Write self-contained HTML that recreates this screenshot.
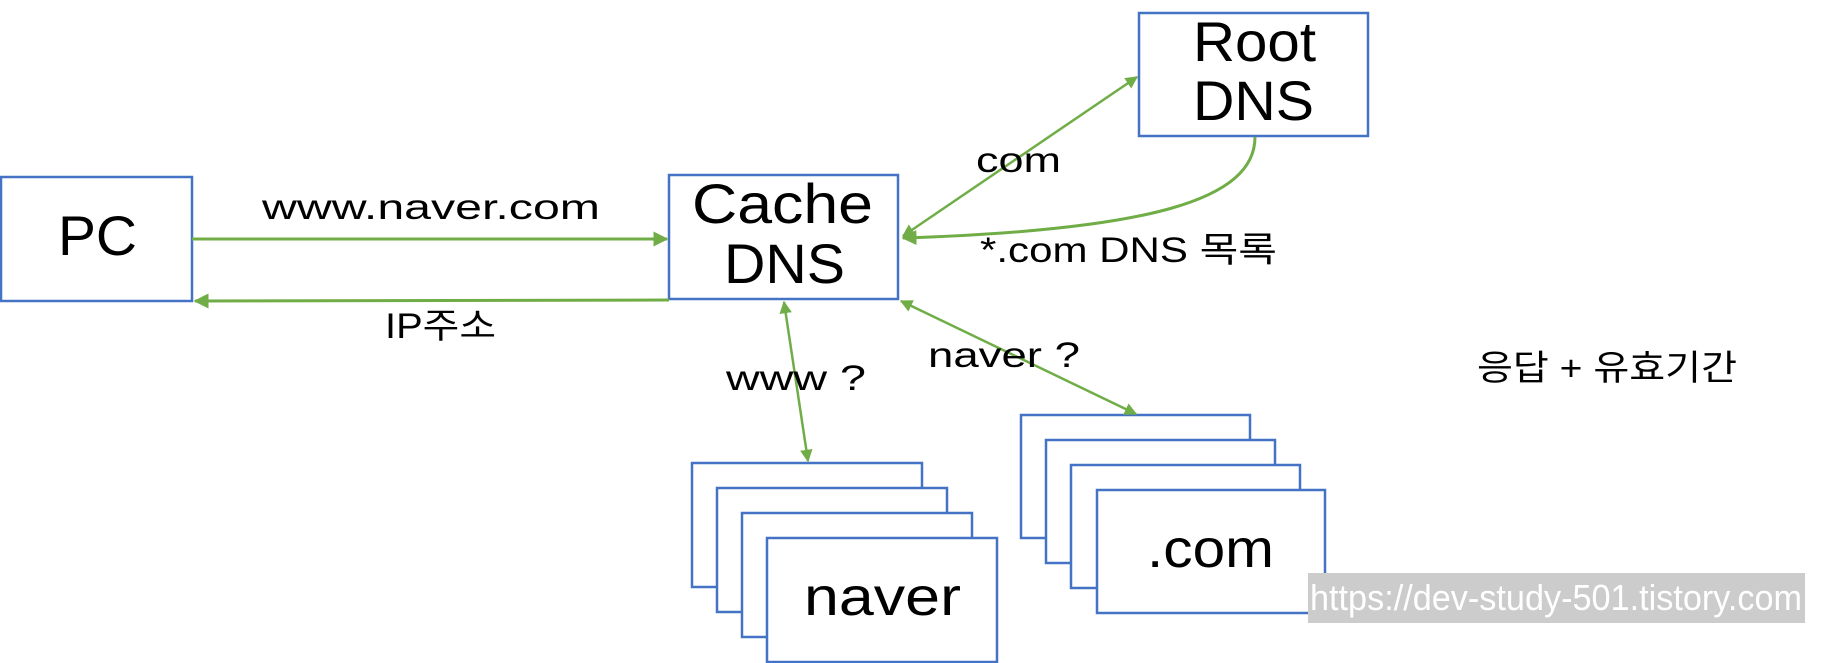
<!DOCTYPE html>
<html><head><meta charset="utf-8"><style>
html,body{margin:0;padding:0;background:#fff;}
svg{display:block;}
text{font-family:"Liberation Sans","Noto Sans CJK KR",sans-serif;fill:#000;}
</style></head><body>
<svg width="1845" height="663" viewBox="0 0 1845 663" xmlns="http://www.w3.org/2000/svg">
<defs>
<marker id="ah" viewBox="0 0 10 10" refX="9" refY="5" markerWidth="5" markerHeight="5" orient="auto-start-reverse" markerUnits="strokeWidth">
<path d="M0,0 L10,5 L0,10 z" fill="#70ad47"/>
</marker>
</defs>
<g fill="#fff" stroke="#4472c4" stroke-width="2.5">
<rect x="1" y="177" width="191" height="124"/>
<rect x="669" y="175" width="229" height="124"/>
<rect x="1139" y="13" width="229" height="123"/>
<rect x="692" y="463" width="230" height="124"/>
<rect x="717" y="488" width="230" height="124"/>
<rect x="742" y="513" width="230" height="124"/>
<rect x="767" y="538" width="230" height="124"/>
<rect x="1021" y="415" width="229" height="123"/>
<rect x="1046" y="440" width="229" height="123"/>
<rect x="1071" y="465" width="229" height="123"/>
<rect x="1097" y="490" width="228" height="123"/>
</g>
<g stroke="#70ad47" stroke-width="3" fill="none">
<line x1="192" y1="239" x2="667" y2="239" marker-end="url(#ah)"/>
<line x1="669" y1="300" x2="195" y2="301" marker-end="url(#ah)"/>
<line x1="903" y1="236" x2="1137" y2="77" stroke-width="2.5" marker-end="url(#ah)" marker-start="url(#ah)"/>
<path d="M1255,137 C1255,200 1150,230 903,238" marker-end="url(#ah)"/>
<line x1="784" y1="302" x2="808" y2="461" stroke-width="2.5" marker-end="url(#ah)" marker-start="url(#ah)"/>
<line x1="901" y1="301" x2="1136" y2="414" stroke-width="2.5" marker-end="url(#ah)" marker-start="url(#ah)"/>
</g>
<g font-size="56">
<text x="58" y="255" textLength="79" lengthAdjust="spacingAndGlyphs">PC</text>
<text x="692" y="223" textLength="181" lengthAdjust="spacingAndGlyphs">Cache</text>
<text x="724" y="283" textLength="121" lengthAdjust="spacingAndGlyphs">DNS</text>
<text x="1193" y="61" textLength="123" lengthAdjust="spacingAndGlyphs">Root</text>
<text x="1193" y="120" textLength="121" lengthAdjust="spacingAndGlyphs">DNS</text>
</g>
<text x="804" y="615" font-size="54" textLength="157" lengthAdjust="spacingAndGlyphs">naver</text>
<text x="1147" y="567" font-size="54" textLength="127" lengthAdjust="spacingAndGlyphs">.com</text>
<text x="262" y="219" font-size="35" textLength="338" lengthAdjust="spacingAndGlyphs">www.naver.com</text>
<text x="385" y="338" font-size="35" textLength="111" lengthAdjust="spacingAndGlyphs">IP주소</text>
<text x="976" y="172" font-size="35" textLength="85" lengthAdjust="spacingAndGlyphs">com</text>
<text x="980" y="262" font-size="35" textLength="297" lengthAdjust="spacingAndGlyphs">*.com DNS 목록</text>
<text x="726" y="390" font-size="35" textLength="140" lengthAdjust="spacingAndGlyphs">www ?</text>
<text x="928" y="367" font-size="35" textLength="152" lengthAdjust="spacingAndGlyphs">naver ?</text>
<text x="1477" y="380" font-size="35" textLength="260" lengthAdjust="spacingAndGlyphs">응답 + 유효기간</text>
<rect x="1308" y="573" width="497" height="50" fill="#cccccc"/>
<text x="1310" y="610" font-size="36" textLength="492" lengthAdjust="spacingAndGlyphs" style="fill:#fff">https://dev-study-501.tistory.com</text>
</svg>
</body></html>
